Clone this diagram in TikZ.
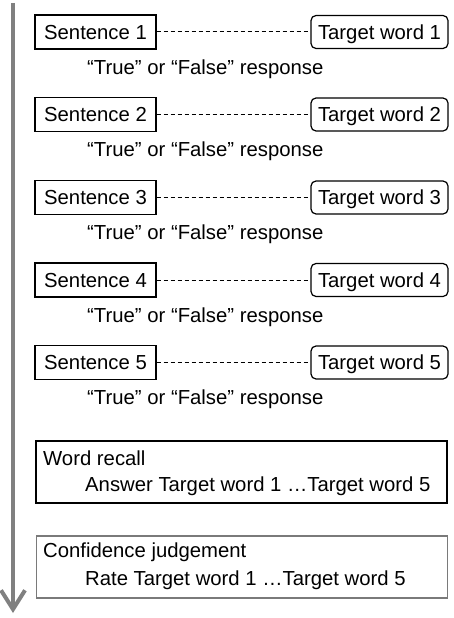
\documentclass[tikz,border=0pt]{standalone}
\usepackage{fontspec}
\setmainfont{Liberation Sans}
\usetikzlibrary{arrows.meta}
\definecolor{arrowgray}{HTML}{808080}
\definecolor{boxgray}{HTML}{7A7A7A}
\tikzset{
  bigfont/.style={font=\fontsize{20.3}{24}\selectfont},
  sentbox/.style={bigfont, draw=black, line width=1.2pt, minimum width=121pt, minimum height=34pt, inner sep=0pt, text height=14.8pt, text depth=0.4pt},
  targbox/.style={bigfont, draw=black, line width=1.2pt, rounded corners=5pt, minimum width=137pt, minimum height=33pt, inner sep=0pt, text height=14.8pt, text depth=0.4pt},
  resp/.style={bigfont, anchor=west, inner sep=0pt},
  bigbox/.style={line width=1.2pt, minimum width=411pt, minimum height=62pt, inner sep=0pt},
  btext/.style={bigfont, anchor=west, inner sep=0pt},
  link/.style={dashed, dash pattern=on 4pt off 3pt, line width=1pt},
}
\begin{document}
\begin{tikzpicture}[x=1pt, y=-1pt]
\useasboundingbox (0,0) rectangle (454,618);
\coordinate (atop) at (13,3);
\coordinate (abot) at (13,613);
\draw[arrowgray, line width=4pt, -{Straight Barb[length=19pt, width=24pt, line width=4pt]}] (atop) -- (abot);
\foreach \i/\y in {1/32, 2/114.5, 3/197.5, 4/280, 5/362.5} {
  \node[sentbox] (s\i) at (95.5,\y) {Sentence \i};
  \node[targbox] (t\i) at (379.5,\y) {Target word \i};
  \draw[link] (s\i) -- (t\i);
  \node[resp] (r\i) at (87,\y+37) {“True” or “False” response};
}
\node[bigbox, draw=black] (wr) at (241.5,472) {};
\node[btext] (wr1) at (43,458) {Word recall};
\node[btext] (wr2) at (85,486) {Answer Target word 1 …Target word 5};
\node[bigbox, draw=boxgray] (cj) at (242,567) {};
\node[btext] (cj1) at (43,552) {Confidence judgement};
\node[btext] (cj2) at (85,580) {Rate Target word 1 …Target word 5};
\end{tikzpicture}
\end{document}
